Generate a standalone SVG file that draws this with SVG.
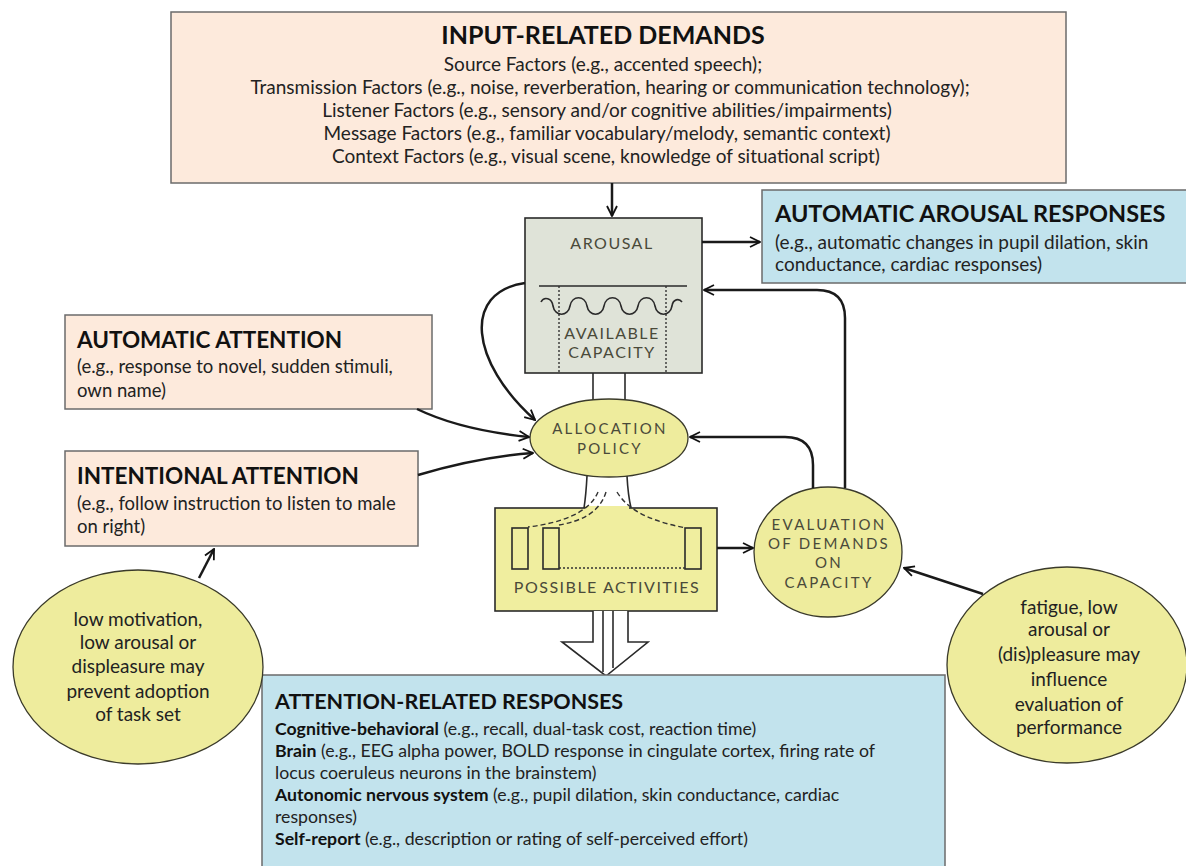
<svg xmlns="http://www.w3.org/2000/svg" width="1186" height="866" viewBox="0 0 1186 866">
<defs>
<marker id="arr" viewBox="0 0 12 12" refX="11" refY="6" markerWidth="12" markerHeight="12" markerUnits="userSpaceOnUse" orient="auto">
<path d="M1,1 L11,6 L1,11" fill="none" stroke="#111" stroke-width="1.8"/>
</marker>
<style>
.box{stroke:#6b6b6b;stroke-width:1.5}
.peach{fill:#fdeadc}
.blue{fill:#c2e3ed}
.yel{fill:#eeec9d;stroke:#3a3a2a;stroke-width:1.3}
.t{font-family:Lato,"Liberation Sans",sans-serif;fill:#222}
.h{font-family:Lato,"Liberation Sans",sans-serif;font-weight:bold;fill:#111}
.s{font-family:Lato,"Liberation Sans",sans-serif;fill:#4a4a3a;letter-spacing:1.5px}
.s2{font-family:Lato,"Liberation Sans",sans-serif;fill:#4a4a3a;letter-spacing:2.3px;font-size:15px}
.ln{fill:none;stroke:#1a1a1a;stroke-width:2.5}
.thin{fill:none;stroke:#2a2a2a;stroke-width:1.6}
</style>
</defs>
<rect width="1186" height="866" fill="#fff"/>

<g id="input-demands">
<rect class="box peach" x="171" y="12" width="895" height="171"/>
<text class="h" x="603" y="44" font-size="25" text-anchor="middle">INPUT-RELATED DEMANDS</text>
<g class="t" font-size="19" text-anchor="middle">
<text x="603" y="71">Source Factors (e.g., accented speech);</text>
<text x="610" y="94">Transmission Factors (e.g., noise, reverberation, hearing or communication technology);</text>
<text x="607" y="117">Listener Factors (e.g., sensory and/or cognitive abilities/impairments)</text>
<text x="607" y="140">Message Factors (e.g., familiar vocabulary/melody, semantic context)</text>
<text x="606" y="163">Context Factors (e.g., visual scene, knowledge of situational script)</text>
</g>
</g>

<g id="auto-arousal-responses">
<rect class="box blue" x="762" y="190" width="430" height="93"/>
<text class="h" x="775" y="222" font-size="23.5">AUTOMATIC AROUSAL RESPONSES</text>
<text class="t" x="775" y="249" font-size="19">(e.g., automatic changes in pupil dilation, skin</text>
<text class="t" x="775" y="271" font-size="19">conductance, cardiac responses)</text>
</g>

<g id="automatic-attention">
<rect class="box peach" x="65" y="315" width="367" height="94"/>
<text class="h" x="77" y="348" font-size="22.5">AUTOMATIC ATTENTION</text>
<text class="t" x="77" y="373" font-size="18.5">(e.g., response to novel, sudden stimuli,</text>
<text class="t" x="77" y="397" font-size="18.5">own name)</text>
</g>

<g id="intentional-attention">
<rect class="box peach" x="65" y="451" width="353" height="95"/>
<text class="h" x="77" y="484" font-size="22.5">INTENTIONAL ATTENTION</text>
<text class="t" x="77" y="510" font-size="18.5">(e.g., follow instruction to listen to male</text>
<text class="t" x="77" y="533" font-size="18.5">on right)</text>
</g>

<g id="arousal">
<rect x="593" y="370" width="32" height="36" fill="#fff" stroke="none"/>
<line class="thin" x1="593" y1="373" x2="593" y2="403"/>
<line class="thin" x1="625" y1="373" x2="625" y2="403"/>
<rect x="525" y="218" width="177" height="155" fill="#dfe3d8" stroke="#2a2a2a" stroke-width="1.6"/>
<text class="s" x="612" y="249" font-size="16" text-anchor="middle">AROUSAL</text>
<line class="thin" x1="539" y1="286" x2="687" y2="286"/>
<line x1="559" y1="286" x2="559" y2="373" stroke="#333" stroke-width="1.4" stroke-dasharray="2,2"/>
<line x1="666" y1="286" x2="666" y2="373" stroke="#333" stroke-width="1.4" stroke-dasharray="2,2"/>
<path class="thin" d="M541,302 C544,296 552,298 553,306 C555,317 568,317 570,306 C572,295 585,295 587,306 C589,317 602,317 604,306 C606,295 619,295 621,306 C623,317 636,317 638,306 C640,295 653,295 655,306 C657,317 670,317 672,306 C673,299 679,298 682,302"/>
<text class="s" x="612" y="339" font-size="16" text-anchor="middle">AVAILABLE</text>
<text class="s" x="612" y="358" font-size="16" text-anchor="middle">CAPACITY</text>
</g>

<g id="allocation-policy">
<rect x="586" y="470" width="42" height="40" fill="#fff" stroke="none"/>
<path class="thin" d="M587,476 Q586,495 584,508"/>
<path class="thin" d="M627,476 Q628,495 631,508"/>
<ellipse class="yel" cx="609" cy="438" rx="79" ry="39"/>
<text class="s2" x="610" y="434" text-anchor="middle">ALLOCATION</text>
<text class="s2" x="610" y="454" text-anchor="middle">POLICY</text>
</g>

<g id="possible-activities">
<rect x="495" y="508" width="222" height="103" fill="#f0ee9f" stroke="#2a2a2a" stroke-width="1.6"/>
<rect x="585" y="506" width="44" height="4" fill="#f0ee9f"/>
<path d="M598,492 C590,512 562,523 528,527" fill="none" stroke="#333" stroke-width="1.4" stroke-dasharray="5,3"/>
<path d="M606,492 C600,512 582,521 559,525" fill="none" stroke="#333" stroke-width="1.4" stroke-dasharray="5,3"/>
<path d="M617,492 C630,514 660,523 686,528" fill="none" stroke="#333" stroke-width="1.4" stroke-dasharray="5,3"/>
<rect class="thin" x="512" y="528" width="16" height="41"/>
<rect class="thin" x="543" y="528" width="16" height="41"/>
<rect class="thin" x="685" y="528" width="16" height="41"/>
<line x1="559" y1="568" x2="685" y2="568" stroke="#333" stroke-width="1.4" stroke-dasharray="2,2"/>
<text class="s" x="607" y="593" font-size="16" text-anchor="middle">POSSIBLE ACTIVITIES</text>
</g>

<g id="evaluation">
<ellipse class="yel" cx="828" cy="552" rx="74" ry="65"/>
<g class="s2" text-anchor="middle">
<text x="829" y="530">EVALUATION</text>
<text x="829" y="549">OF DEMANDS</text>
<text x="829" y="568">ON</text>
<text x="829" y="588">CAPACITY</text>
</g>
</g>

<g id="big-arrow">
<path d="M593,611 L593,642 L562,642 L606,676 L648,642 L628,642 L628,611" fill="#fff" stroke="#2a2a2a" stroke-width="1.6"/>
<line class="thin" x1="603" y1="611" x2="603" y2="672"/>
<line class="thin" x1="613" y1="611" x2="613" y2="668"/>
</g>

<g id="attention-responses">
<rect class="box blue" x="262" y="675" width="683" height="200"/>
<text class="h" x="275" y="709" font-size="21.5">ATTENTION-RELATED RESPONSES</text>
<g class="t" font-size="17.7">
<text x="275" y="735"><tspan font-weight="bold" fill="#111">Cognitive-behavioral</tspan> (e.g., recall, dual-task cost, reaction time)</text>
<text x="275" y="757"><tspan font-weight="bold" fill="#111">Brain</tspan> (e.g., EEG alpha power, BOLD response in cingulate cortex, firing rate of</text>
<text x="275" y="779">locus coeruleus neurons in the brainstem)</text>
<text x="275" y="801"><tspan font-weight="bold" fill="#111">Autonomic nervous system</tspan> (e.g., pupil dilation, skin conductance, cardiac</text>
<text x="275" y="823">responses)</text>
<text x="275" y="845"><tspan font-weight="bold" fill="#111">Self-report</tspan> (e.g., description or rating of self-perceived effort)</text>
</g>
</g>

<g id="low-motivation">
<ellipse class="yel" cx="138" cy="667" rx="125" ry="97"/>
<g class="t" font-size="19" text-anchor="middle">
<text x="138" y="626">low motivation,</text>
<text x="138" y="649">low arousal or</text>
<text x="138" y="673">displeasure may</text>
<text x="138" y="698">prevent adoption</text>
<text x="138" y="721">of task set</text>
</g>
</g>

<g id="fatigue">
<ellipse class="yel" cx="1067" cy="665" rx="120" ry="98"/>
<g class="t" font-size="19" text-anchor="middle">
<text x="1069" y="614">fatigue, low</text>
<text x="1069" y="636">arousal or</text>
<text x="1069" y="661">(dis)pleasure may</text>
<text x="1069" y="686">influence</text>
<text x="1069" y="711">evaluation of</text>
<text x="1069" y="734">performance</text>
</g>
</g>

<g id="connectors" class="ln" marker-end="url(#arr)">
<path d="M612,183 L612,216"/>
<path d="M702,242 L760,242"/>
<path d="M525,283 C462,292 470,362 535,420"/>
<path d="M417,409 C450,425 490,433 529,437"/>
<path d="M418,475 C452,465 492,456 533,453"/>
<path d="M717,548 L753,548"/>
<path d="M813,488 L813,465 Q813,437 785,437 L690,437"/>
<path d="M845,488 L845,318 Q845,290 817,290 L704,290"/>
<path d="M199,578 L214,549"/>
<path d="M983,594 L904,568"/>
</g>
</svg>
